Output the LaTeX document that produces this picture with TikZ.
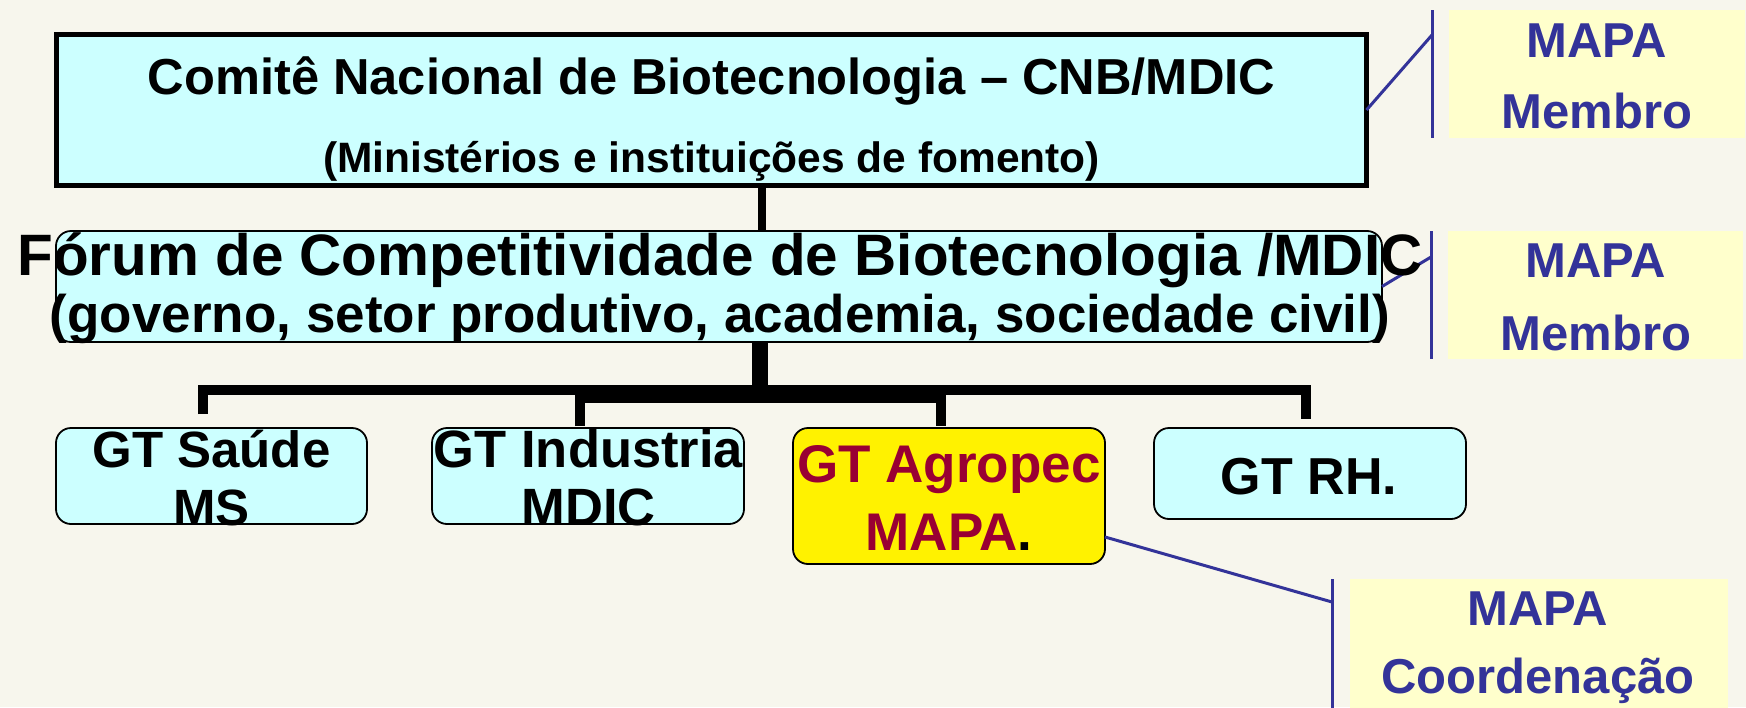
\documentclass[tikz,border=0pt]{standalone}
\usepackage{fontspec}
\setmainfont{Liberation Sans}
\usetikzlibrary{calc}
\definecolor{bgc}{RGB}{247,246,237}
\definecolor{cyanfill}{RGB}{204,255,255}
\definecolor{lightyel}{RGB}{255,255,204}
\definecolor{callblue}{RGB}{51,51,153}
\definecolor{maroonred}{RGB}{153,0,51}
\newcommand\myfs[1]{\fontsize{#1}{#1}\selectfont\bfseries}
\begin{document}
\begin{tikzpicture}[x=1pt,y=-1pt,
  topbox/.style={draw=black, line width=5pt, fill=cyanfill, rectangle, inner sep=0pt, outer sep=0pt},
  gtbox/.style={draw=black, line width=1.8pt, fill=cyanfill, rounded corners=15pt, inner sep=0pt, outer sep=0pt},
  callbox/.style={fill=lightyel, inner sep=0pt, outer sep=0pt},
  txt/.style={inner sep=0pt, outer sep=0pt, anchor=base},
  bus/.style={line width=10pt, black},
  stem/.style={line width=8pt, black},
  callline/.style={draw=callblue, line width=3pt},
  calltext/.style={txt, text=callblue, font={\myfs{49}}},
]
\clip (0,0) rectangle (1746,707);
\fill[bgc] (0,0) rectangle (1746,707);

% boxes
\node[topbox, minimum width=1310pt, minimum height=151pt] (cnb) at (711.5,110) {};
\node[gtbox, minimum width=1326pt, minimum height=111pt] (forum) at (719,286.5) {};
\node[gtbox, minimum width=311pt, minimum height=96pt] (saude) at (211.5,476) {};
\node[gtbox, minimum width=312pt, minimum height=96pt] (industria) at (588,476) {};
\node[gtbox, fill=yellow, minimum width=312pt, minimum height=136pt] (agropec) at (949,496) {};
\node[gtbox, minimum width=312pt, minimum height=91pt] (rh) at (1310,473.5) {};

% connectors
\coordinate (xs) at (762,0);
\coordinate (xA) at (763,0);
\coordinate (xB) at (757,0);
\coordinate (yU) at (0,390);
\coordinate (yL) at (0,398);
\draw[stem] (cnb.south -| xs) -- (forum.north -| xs);
\coordinate (sd) at ($(saude.north)+(-9,-14)$);
\coordinate (rd) at ($(rh.north)+(-4,-9)$);
\coordinate (id) at ($(industria.north)+(-8,-2)$);
\coordinate (ad) at ($(agropec.north)+(-8,-2)$);
\draw[bus] (forum.south -| xA) -- (xA |- yU);
\draw[bus] (forum.south -| xB) -- (xB |- yL);
\draw[bus] (sd) -- (sd |- yU) -- (rd |- yU) -- (rd);
\draw[bus] (id) -- (id |- yL) -- (ad |- yL) -- (ad);

% callouts
\node[callbox, minimum width=296pt, minimum height=128pt] (mapa1) at (1597,74) {};
\node[callbox, minimum width=295pt, minimum height=128pt] (mapa2) at (1595.5,295) {};
\node[callbox, minimum width=378pt, minimum height=141pt] (mapa3) at (1539,649.5) {};
\draw[callline] ($(mapa1.north west)+(-17,0)$) -- ($(mapa1.south west)+(-17,0)$);
\draw[callline] (cnb.east) -- ($(mapa1.north west)+(-17,25)$);
\draw[callline] ($(mapa2.north west)+(-17,0)$) -- ($(mapa2.south west)+(-17,0)$);
\draw[callline] (forum.east) -- ($(mapa2.north west)+(-17,26)$);
\draw[callline] ($(mapa3.north west)+(-18,0)$) -- ($(mapa3.south west)+(-18,0)$);
\draw[callline] ($(agropec.south east)+(0,-27)$) -- ($(mapa3.north west)+(-18,23)$);

% texts
\node[txt, font={\myfs{50.6}}] (cnbt1) at (711.5,94) {Comitê Nacional de Biotecnologia – CNB/MDIC};
\node[txt, font={\myfs{42.5}}] (cnbt2) at (711.5,172) {(Ministérios e instituições de fomento)};
\node[txt, font={\myfs{58.4}}] (forumt1) at (720,275) {Fórum de Competitividade de Biotecnologia /MDIC};
\node[txt, font={\myfs{53}}] (forumt2) at (720,332) {(governo, setor produtivo, academia, sociedade civil)};
\node[txt, font={\myfs{51}}] (saudet1) at (211.5,467) {GT Saúde};
\node[txt, font={\myfs{51}}] (saudet2) at (211.5,525) {MS};
\node[txt, font={\myfs{52.5}}] (indt1) at (588.5,467) {GT Industria};
\node[txt, font={\myfs{52.5}}] (indt2) at (588.5,525) {MDIC};
\node[txt, font={\myfs{53}}, text=maroonred] (agrot1) at (949,482) {GT Agropec};
\node[txt, font={\myfs{53}}] (agrot2) at (949,550) {\textcolor{maroonred}{MAPA}.};
\node[txt, font={\myfs{52}}] (rht) at (1309,494) {GT RH.};
\node[calltext] (m1a) at (1597,57) {MAPA};
\node[calltext] (m1b) at (1597,128) {Membro};
\node[calltext] (m2a) at (1596,277) {MAPA};
\node[calltext] (m2b) at (1596,350) {Membro};
\node[calltext] (m3a) at (1538,625) {MAPA};
\node[calltext] (m3b) at (1538,693) {Coordenação};
\end{tikzpicture}
\end{document}
